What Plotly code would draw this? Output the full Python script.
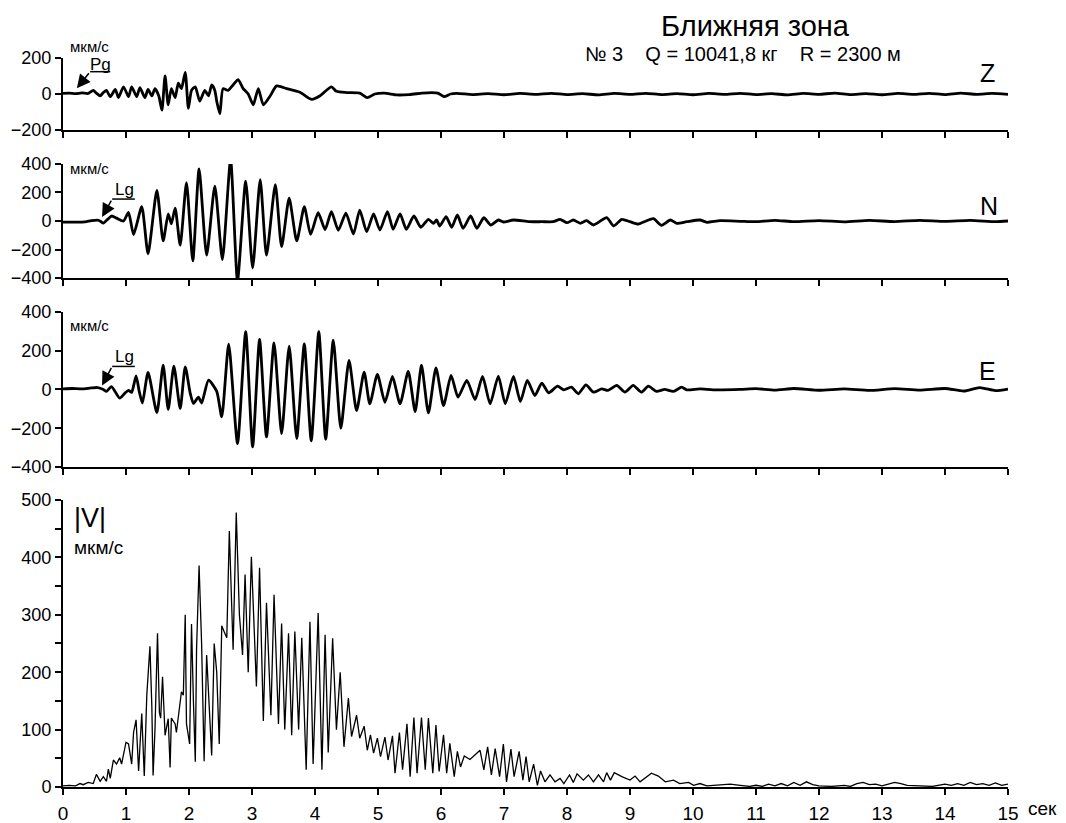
import plotly.graph_objects as go

# ---------------- data (time in s, velocity in мкм/с) ----------------
z_t = [0.0, 0.1, 0.2, 0.3, 0.4, 0.48, 0.53, 0.59, 0.64, 0.69, 0.75, 0.83, 0.88, 0.96, 1.04, 1.09, 1.17,
       1.22, 1.30, 1.35, 1.41, 1.46, 1.52, 1.57, 1.62, 1.67, 1.72, 1.78, 1.83, 1.88, 1.94, 1.99, 2.04,
       2.10, 2.17, 2.25, 2.31, 2.36, 2.41, 2.44, 2.49, 2.54, 2.62, 2.70, 2.78, 2.86, 2.94, 3.02, 3.10,
       3.18, 3.29, 3.39, 3.55, 3.76, 3.95, 4.08, 4.26, 4.34, 4.50, 4.71, 4.83, 4.95, 5.10, 5.30, 5.50,
       5.70, 5.85, 5.95, 6.05, 6.15,
       6.25, 6.5, 6.75, 7.0, 7.25, 7.5, 7.75, 8.0, 8.25, 8.5, 8.75, 9.0, 9.25, 9.5, 9.75, 10.0, 10.25,
       10.5, 10.75, 11.0, 11.25, 11.5, 11.75, 12.0, 12.25, 12.5, 12.75, 13.0, 13.25, 13.5, 13.75, 14.0,
       14.25, 14.5, 14.75, 15.0]
z_v = [3, 5, 2, 6, 3, 20, 5, -10, 8, 20, -15, 25, -20, 40, -15, 40, -15,
       35, -20, 25, -10, 30, -10, -90, 100, -60, 30, -20, 60, 30, 120, -80, 20,
       40, -40, 20, -10, 50, 20, -40, -110, 30, 20, 50, 80, 30, 0, -60, 30,
       -60, -10, 45, 30, 10, -30, -10, 40, 15, 8, 5, -20, 0, 5, -5, -3,
       5, 8, 5, -15, 0,
       3, -3, 2, -4, 3, -2, 4, -3, 2, -5, 3, -2, 4, -3, 2, -4, 3,
       -2, 4, -3, 2, -5, 3, -2, 5, -3, 2, -4, 3, -2, 4, -3,
       5, -2, 3, -2]

n_t = [0.0, 0.2, 0.35, 0.45, 0.55, 0.6, 0.64, 0.77, 0.85, 0.96, 1.04, 1.12, 1.25, 1.35, 1.49, 1.59,
       1.67, 1.72, 1.78, 1.86, 1.96, 2.06, 2.16, 2.28, 2.41, 2.53, 2.66, 2.77, 2.90, 3.01, 3.13, 3.23,
       3.37, 3.47, 3.59, 3.71, 3.83, 3.93, 4.05, 4.16, 4.26, 4.37, 4.49, 4.61, 4.71, 4.82, 4.93, 5.03,
       5.15, 5.24, 5.35, 5.45, 5.57, 5.68, 5.80, 5.88, 5.93, 5.98, 6.08, 6.17, 6.26, 6.35, 6.47, 6.57,
       6.68, 6.79, 6.91, 6.99, 7.15, 7.4, 7.6, 7.78, 7.89, 8.00, 8.10, 8.21, 8.31, 8.42, 8.63, 8.74,
       8.87, 9.00, 9.13, 9.37, 9.50, 9.64, 9.74, 9.90, 10.11, 10.22, 10.43, 10.75,
       11.0, 11.3, 11.6, 12.0, 12.4, 12.8, 13.2, 13.6, 14.0, 14.4, 14.8, 15.0]
n_v = [-8, -8, -6, 2, 6, -3, -15, 35, 20, 0, 60, -95, 100, -230, 215, -140,
       50, -20, 90, -170, 270, -280, 365, -240, 245, -270, 430, -420, 280, -330, 290, -240,
       255, -180, 160, -140, 100, -93, 58, -60, 65, -65, 55, -91, 77, -75, 49, -63,
       66, -58, 49, -58, 35, -44, 12, -16, 7, -35, 30, -44, 42, -51, 35, -51,
       23, -28, 7, -7, 7, -5, -5, -5, 12, -12, 7, -16, 2, -28, 23, -35,
       12, -5, -21, 16, -30, 7, -16, -5, 7, -9, 2, -2,
       -5, 5, -5, 3, -6, 4, -4, 5, -3, 4, -5, 0]

e_t = [0.0, 0.15, 0.3, 0.45, 0.55, 0.64, 0.69, 0.77, 0.90, 0.98, 1.04, 1.09, 1.16, 1.21, 1.26, 1.35,
       1.49, 1.59, 1.67, 1.76, 1.86, 1.94, 2.02, 2.07, 2.15, 2.20, 2.31, 2.44, 2.52, 2.63, 2.77, 2.90,
       3.01, 3.12, 3.23, 3.35, 3.47, 3.59, 3.71, 3.83, 3.94, 4.06, 4.17, 4.29, 4.41, 4.54, 4.66, 4.78,
       4.87, 4.99, 5.11, 5.23, 5.35, 5.48, 5.59, 5.69, 5.80, 5.92, 6.04, 6.16, 6.27, 6.41, 6.54, 6.66,
       6.78, 6.91, 7.02, 7.15, 7.26, 7.37, 7.49, 7.60, 7.71, 7.85, 7.95, 8.07, 8.18, 8.30, 8.42, 8.55,
       8.65, 8.79, 8.92, 9.05, 9.18, 9.29, 9.42, 9.55, 9.69, 9.82, 9.90, 10.11, 10.32, 10.75,
       11.0, 11.3, 11.6, 12.0, 12.4, 12.8, 13.2, 13.6, 14.0, 14.3, 14.55, 14.8, 15.0]
e_v = [3, 5, 3, 8, 10, 0, -10, 15, -45, -20, -5, -15, 70, -10, -70, 88,
       -119, 126, -103, 121, -98, 117, -20, -72, -40, -70, 48, -10, -141, 234, -279, 298,
       -296, 259, -245, 241, -228, 224, -253, 235, -265, 298, -257, 255, -200, 150, -109, 90,
       -74, 78, -66, 67, -74, 93, -114, 125, -121, 111, -83, 73, -40, 47, -52, 67,
       -74, 69, -74, 67, -62, 47, -31, 33, -17, 17, -2, 12, -22, 24, -14, 3,
       -5, 21, -14, 21, -14, 17, -10, 0, -10, 12, -2, 3, -2, 0,
       4, -3, 5, -4, 3, -5, 4, -3, 5, -8, 10, -6, 2]

v_t = [0.0, 0.1, 0.2, 0.27, 0.32, 0.4, 0.48, 0.53, 0.59, 0.64, 0.69, 0.72, 0.75, 0.80, 0.85, 0.90,
       0.93, 0.97, 1.00, 1.04, 1.09, 1.12, 1.16, 1.20, 1.25, 1.29, 1.33, 1.38, 1.41, 1.43, 1.46, 1.50,
       1.53, 1.55, 1.58, 1.62, 1.67, 1.70, 1.72, 1.78, 1.80, 1.88, 1.91, 1.94, 1.96, 2.01, 2.04, 2.07,
       2.10, 2.12, 2.16, 2.20, 2.24, 2.28, 2.32, 2.36, 2.40, 2.44, 2.48, 2.52, 2.56, 2.60, 2.64, 2.68,
       2.70, 2.75, 2.80, 2.85, 2.89, 2.94, 2.99, 3.07, 3.12, 3.18, 3.23, 3.30, 3.35, 3.42, 3.47, 3.52,
       3.58, 3.63, 3.68, 3.74, 3.79, 3.86, 3.92, 3.97, 4.05, 4.11, 4.16, 4.21, 4.28, 4.34, 4.40, 4.46,
       4.53, 4.58, 4.66, 4.71, 4.78, 4.83, 4.88, 4.93, 4.99, 5.04, 5.11, 5.16, 5.23, 5.27, 5.34, 5.39,
       5.46, 5.51, 5.57, 5.62, 5.69, 5.75, 5.80, 5.87, 5.92, 5.97, 6.04, 6.09, 6.14, 6.21, 6.26, 6.31,
       6.37, 6.46, 6.54, 6.62, 6.68, 6.74, 6.80, 6.86, 6.93, 6.99, 7.04, 7.11, 7.16, 7.24, 7.30, 7.35,
       7.40, 7.47, 7.53, 7.58, 7.65, 7.73, 7.81, 7.89, 7.95, 8.04, 8.10, 8.16, 8.26, 8.34, 8.42, 8.50,
       8.58, 8.63, 8.69, 8.75, 8.87, 9.00, 9.08, 9.16, 9.34, 9.45, 9.56, 9.69, 9.79, 9.93, 10.01, 10.11,
       10.22, 10.59, 10.75, 10.9, 11.0, 11.1, 11.2, 11.3, 11.4, 11.5, 11.6, 11.7, 11.8, 11.9, 12.0, 12.2,
       12.4, 12.5, 12.6, 12.7, 12.8, 12.9, 13.0, 13.2, 13.3, 13.4, 13.6, 13.8, 14.0, 14.1, 14.2, 14.3,
       14.4, 14.5, 14.6, 14.7, 14.8, 14.9, 15.0]
v_v = [2, 3, 2, 6, 4, 8, 6, 22, 10, 18, 10, 31, 15, 47, 40, 51,
       40, 64, 78, 75, 40, 95, 117, 28, 128, 19, 160, 245, 140, 20, 100, 268,
       130, 120, 192, 90, 119, 34, 120, 110, 95, 166, 160, 300, 110, 75, 284, 150,
       44, 240, 386, 250, 45, 230, 140, 55, 250, 200, 75, 281, 270, 260, 446, 300,
       239, 478, 300, 230, 370, 200, 401, 175, 382, 115, 321, 125, 335, 110, 285, 100,
       268, 90, 271, 100, 260, 30, 288, 40, 303, 30, 265, 60, 259, 100, 200, 70,
       155, 88, 125, 85, 106, 64, 91, 59, 85, 53, 87, 47, 89, 24, 95, 30,
       110, 18, 121, 24, 121, 30, 120, 24, 108, 27, 91, 24, 76, 18, 62, 35,
       54, 48, 56, 64, 30, 70, 21, 67, 18, 75, 9, 66, 18, 62, 12, 53,
       9, 40, 3, 28, 9, 21, 9, 15, 6, 21, 8, 23, 12, 21, 9, 21,
       9, 25, 12, 25, 18, 12, 19, 9, 24, 19, 9, 12, 6, 8, 3, 6,
       2, 5, 3, 1, 3, 1, 5, 2, 6, 2, 8, 3, 9, 4, 2, 1,
       3, 1, 6, 8, 4, 5, 2, 8, 6, 3, 2, 1, 5, 3, 6, 3,
       8, 4, 6, 3, 7, 3, 5]

x_ticks = list(range(16))
x_ticktext = [str(i) for i in range(16)]

# ---------------- figure ----------------
FONT = "Liberation Sans, Arial, sans-serif"
NARROW = "Liberation Sans Narrow, Arial Narrow, Liberation Sans, sans-serif"
fig = go.Figure()
fig.add_trace(go.Scatter(x=z_t, y=z_v, mode="lines", xaxis="x", yaxis="y",
                         line=dict(color="black", width=2.8, shape="spline", smoothing=0.6)))
fig.add_trace(go.Scatter(x=n_t, y=n_v, mode="lines", xaxis="x2", yaxis="y2",
                         line=dict(color="black", width=2.8, shape="spline", smoothing=0.6)))
fig.add_trace(go.Scatter(x=e_t, y=e_v, mode="lines", xaxis="x3", yaxis="y3",
                         line=dict(color="black", width=2.8, shape="spline", smoothing=0.6)))
fig.add_trace(go.Scatter(x=v_t, y=v_v, mode="lines", xaxis="x4", yaxis="y4",
                         line=dict(color="black", width=1.3)))

def xax(anchor, labels=False):
    return dict(domain=[0, 1], anchor=anchor, range=[0, 15], tickvals=x_ticks, ticktext=x_ticktext,
                showticklabels=labels, ticks="outside", ticklen=6, tickwidth=2, tickcolor="black",
                showline=True, linewidth=2, linecolor="black", showgrid=False, zeroline=False,
                automargin=False, ticklabelstandoff=2,
                tickfont=dict(size=19, color="black", family=FONT))

def yax(anchor, dom, rng, vals, minor=None):
    d = dict(domain=dom, anchor=anchor, range=rng, tickvals=vals, ticks="outside", ticklen=6,
             tickwidth=2, tickcolor="black", showline=True, linewidth=2, linecolor="black",
             showgrid=False, zeroline=False, automargin=False,
             tickfont=dict(size=18, color="black", family=FONT))
    if minor:
        d["minor"] = dict(tickvals=minor, ticks="outside", ticklen=6, tickwidth=2, tickcolor="black",
                          showgrid=False)
    return d

fig.update_layout(
    width=1066, height=823,
    margin=dict(l=63, r=58, t=58, b=36, autoexpand=False),
    paper_bgcolor="white", plot_bgcolor="white",
    showlegend=False,
    font=dict(family=FONT, color="black"),
    xaxis=xax("y"), xaxis2=xax("y2"), xaxis3=xax("y3"), xaxis4=xax("y4", True),
    yaxis=yax("x", [0.9012, 1.0], [-200, 200], [-200, 0, 200]),
    yaxis2=yax("x2", [0.6982, 0.8546], [-400, 400], [-400, -200, 0, 200, 400]),
    yaxis3=yax("x3", [0.4390, 0.6516], [-400, 400], [-400, -200, 0, 200, 400]),
    yaxis4=yax("x4", [0.0, 0.3937], [0, 500], [0, 100, 200, 300, 400, 500],
               minor=[50, 150, 250, 350, 450]),
)

ann = []
def txt(text, x, y, size, xanchor="center", yanchor="middle", xref="paper", yref="paper",
        family=FONT, xshift=0):
    ann.append(dict(text=text, x=x, y=y, xref=xref, yref=yref, showarrow=False, xanchor=xanchor,
                    yanchor=yanchor, xshift=xshift, font=dict(size=size, family=family, color="black")))

txt("Ближняя зона", 0.7323, 1.0439, 29)
txt("№ 3\u00a0\u00a0\u00a0\u00a0Q = 10041,8 кг\u00a0\u00a0\u00a0\u00a0R = 2300 м", 0.7196, 1.0055, 20)
txt("Z", 0.9788, 0.9794, 25)
txt("N", 0.9799, 0.7970, 25)
txt("E", 0.9788, 0.5706, 25)
txt("мкм/с", 0.0053, 1.0160, 15, xanchor="left")
txt("мкм/с", 0.0053, 0.8491, 15, xanchor="left")
txt("мкм/с", 0.0053, 0.6337, 15, xanchor="left")
txt("|V|", 0.0095, 0.3690, 27, xanchor="left")
txt("мкм/с", 0.0095, 0.3292, 19, xanchor="left")
txt("сек", 15, -0.0300, 19, xanchor="left", xref="x4", yref="paper", xshift=18)

# phase markers (Pg on Z, Lg on N and E)
txt("Pg", 0.59, 166, 17, xref="x", yref="y", family=NARROW)
txt("Lg", 0.97, 218, 17, xref="x2", yref="y2", family=NARROW)
txt("Lg", 0.97, 171, 17, xref="x3", yref="y3", family=NARROW)

shapes = []
for xr, yr, x0, x1, yy, tx, ty in [("x", "y", 0.43, 0.75, 124, 0.22, 32),
                                   ("x2", "y2", 0.78, 1.14, 154, 0.62, 28),
                                   ("x3", "y3", 0.78, 1.14, 119, 0.62, 21)]:
    shapes.append(dict(type="line", xref=xr, yref=yr, x0=x0, x1=x1, y0=yy, y1=yy,
                       line=dict(color="black", width=1.5)))
    ann.append(dict(text="", x=tx, y=ty, xref=xr, yref=yr, ax=x0, ay=yy, axref=xr, ayref=yr,
                    showarrow=True, arrowhead=2, arrowsize=1.8, arrowwidth=1.5, arrowcolor="black"))

fig.update_layout(annotations=ann, shapes=shapes)
fig.write_html("out.html")
